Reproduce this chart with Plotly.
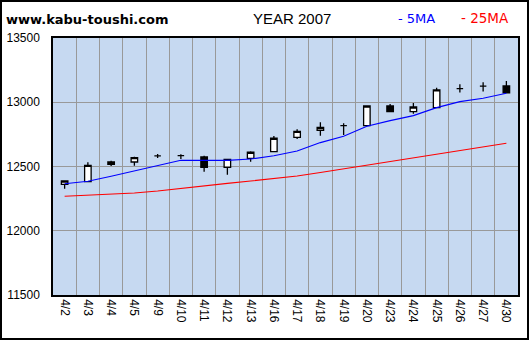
import plotly.graph_objects as go

# Trading days (April 2007)
dates = ["4/2", "4/3", "4/4", "4/5", "4/9", "4/10", "4/11", "4/12", "4/13", "4/16",
         "4/17", "4/18", "4/19", "4/20", "4/23", "4/24", "4/25", "4/26", "4/27", "4/30"]

# Daily OHLC prices
open_ = [12361, 12382, 12517, 12535, 12582, 12584, 12574, 12494, 12564, 12615,
         12727, 12782, 12818, 12818, 12971, 12927, 12958, 13106, 13125, 13127]
high = [12392, 12533, 12545, 12576, 12597, 12595, 12584, 12556, 12618, 12738,
        12790, 12844, 12836, 12975, 12987, 12995, 13112, 13140, 13156, 13166]
low = [12327, 12380, 12504, 12506, 12566, 12558, 12459, 12436, 12537, 12613,
       12714, 12740, 12745, 12815, 12925, 12911, 12956, 13075, 13083, 13071]
close = [12387, 12509, 12535, 12569, 12582, 12584, 12494, 12556, 12611, 12720,
         12774, 12805, 12818, 12971, 12927, 12963, 13096, 13106, 13125, 13073]

# Moving averages
ma5 = [12366, 12385, 12424, 12465, 12506, 12548, 12548, 12548, 12558, 12583,
       12620, 12686, 12736, 12814, 12857, 12896, 12958, 13005, 13031, 13070]
ma25 = [12268, 12276, 12283, 12294, 12309, 12329, 12354, 12369, 12387, 12405,
        12426, 12453, 12481, 12508, 12539, 12566, 12593, 12621, 12650, 12681]

y_ticks = [11500, 12000, 12500, 13000, 13500]

W, H = 530, 341
ML, MR, MT, MB = 53, 12, 38, 46
PW, PH = W - ML - MR, H - MT - MB

fig = go.Figure()

fig.add_trace(go.Candlestick(
    x=dates, open=open_, high=high, low=low, close=close,
    increasing=dict(fillcolor="white", line=dict(color="black", width=1.3)),
    decreasing=dict(fillcolor="black", line=dict(color="black", width=1.3)),
    whiskerwidth=0, hoverinfo="skip", showlegend=False,
))
fig.add_trace(go.Scatter(x=dates, y=ma25, mode="lines",
                         line=dict(color="#ff0000", width=1.1),
                         hoverinfo="skip", showlegend=False))
fig.add_trace(go.Scatter(x=dates, y=ma5, mode="lines",
                         line=dict(color="#0000ff", width=1.1),
                         hoverinfo="skip", showlegend=False))

def px_x(px):
    return (px - ML) / PW

def px_y(py):
    return (H - MB - py) / PH

annotations = [
    dict(text="<b>www.kabu-toushi.com</b>", x=px_x(4), y=px_y(19), xanchor="left",
         font=dict(family="DejaVu Sans", size=13, color="black")),
    dict(text="YEAR 2007", x=px_x(292), y=px_y(18), xanchor="center",
         font=dict(family="Liberation Sans", size=15, color="black")),
    dict(text="- 5MA", x=px_x(396), y=px_y(18), xanchor="left",
         font=dict(family="DejaVu Sans", size=13, color="#0000ff")),
    dict(text="- 25MA", x=px_x(459), y=px_y(18), xanchor="left",
         font=dict(family="DejaVu Sans", size=13.5, color="#ff0000")),
]
for a in annotations:
    a.update(xref="paper", yref="paper", yanchor="middle", showarrow=False)

fig.update_layout(
    width=W, height=H,
    margin=dict(l=ML, r=MR, t=MT, b=MB, autoexpand=False),
    paper_bgcolor="white",
    plot_bgcolor="#c6d9f1",
    boxgap=0.6,
    annotations=annotations,
    shapes=[dict(type="rect", xref="paper", yref="paper",
                 x0=px_x(1), x1=px_x(528), y0=px_y(339), y1=px_y(1),
                 line=dict(color="black", width=2), layer="above")],
    xaxis=dict(
        type="category", range=[-0.5, len(dates) - 0.5], automargin=False,
        tickson="boundaries", showgrid=True, gridcolor="#999999", gridwidth=1,
        tickangle=90, ticks="outside", ticklen=11, tickcolor="rgba(0,0,0,0)",
        tickfont=dict(family="Liberation Sans", size=12, color="black"),
        showline=True, linecolor="black", linewidth=1.5, mirror=True,
        rangeslider=dict(visible=False), fixedrange=True,
    ),
    yaxis=dict(
        range=[11500, 13500], automargin=False,
        tickvals=y_ticks, ticktext=[str(v) for v in y_ticks],
        showgrid=True, gridcolor="#999999", gridwidth=1, zeroline=False,
        ticks="outside", ticklen=9, tickcolor="rgba(0,0,0,0)",
        tickfont=dict(family="Liberation Sans", size=12, color="black"),
        showline=True, linecolor="black", linewidth=1.5, mirror=True,
        fixedrange=True,
    ),
)

fig.write_html("out.html", config={"displayModeBar": False})
